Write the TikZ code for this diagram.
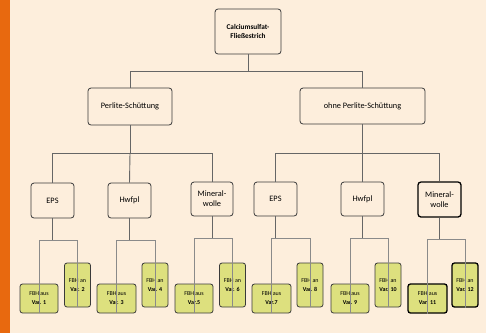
\documentclass[tikz,border=0pt]{standalone}
\usepackage{fontspec}
\setmainfont{Carlito}
\definecolor{bg}{HTML}{FDEEDC}
\definecolor{bar}{HTML}{E8690F}
\definecolor{leaf}{HTML}{DDE07E}
\definecolor{edge}{HTML}{3A3A3A}
\definecolor{wire}{HTML}{666666}
\definecolor{wireleaf}{HTML}{8A8A8A}
\begin{document}
\begin{tikzpicture}[x=1pt,y=-1pt,
  box/.style={draw=edge, line width=0.8pt, rounded corners=3pt, fill=bg, align=center, inner sep=1pt, font=\fontsize{8.3}{10}\selectfont},
  topbox/.style={box, font=\fontsize{7.3}{9}\selectfont\bfseries},
  aus/.style={draw=edge, line width=0.8pt, rounded corners=2.5pt, fill=leaf, align=center, inner sep=0.5pt, minimum height=29pt, font=\fontsize{6}{9}\selectfont},
  an/.style={aus, minimum height=44pt, minimum width=26pt},
  thick box/.style={draw=black, line width=1.3pt},
  wire/.style={draw=wire, line width=0.9pt},
  leafwire/.style={draw=wireleaf, line width=0.9pt}]
\fill[bg] (0,0) rectangle (486,333);
\fill[bar] (0,0) rectangle (10,333);
\useasboundingbox (0,0) rectangle (486,333);

\node[topbox, minimum width=66pt, minimum height=45pt] (top) at (248,31.5) {Calciumsulfat-\\Fließestrich};
\node[box, minimum width=84pt, minimum height=37pt] (perl) at (130,106.5) {Perlite-Schüttung};
\node[box, minimum width=125pt, minimum height=36pt] (ohne) at (362.5,106) {ohne Perlite-Schüttung};

\node[box, minimum width=43pt, minimum height=35pt] (eps1) at (52.5,200.5) {EPS};
\node[box, minimum width=43pt, minimum height=35pt] (hw1) at (129.5,200.5) {Hwfpl};
\node[box, minimum width=42pt, minimum height=34pt] (mw1) at (212,199) {Mineral-\\wolle};
\node[box, minimum width=43pt, minimum height=34pt] (eps2) at (275.5,199) {EPS};
\node[box, minimum width=43pt, minimum height=34pt] (hw2) at (362.5,199) {Hwfpl};
\node[box, thick box, minimum width=43pt, minimum height=35pt] (mw2) at (439.5,199.5) {Mineral-\\wolle};

\node[aus, minimum width=38pt] (v1) at (39,298.5) {FBH aus\\\textbf{Var. 1}};
\node[an] (v2) at (77.5,285) {FBH an\\\textbf{Var. 2}};
\node[aus, minimum width=39pt] (v3) at (116.5,298.5) {FBH aus\\\textbf{Var. 3}};
\node[an] (v4) at (155,285) {FBH an\\\textbf{Var. 4}};
\node[aus, minimum width=38pt] (v5) at (194,298.5) {FBH aus\\\textbf{Var.5}};
\node[an] (v6) at (232.5,285) {FBH an\\\textbf{Var. 6}};
\node[aus, minimum width=39pt] (v7) at (271.5,298.5) {FBH aus\\\textbf{Var.7}};
\node[an] (v8) at (310,285) {FBH an\\\textbf{Var. 8}};
\node[aus, minimum width=38pt] (v9) at (350,298.5) {FBH aus\\\textbf{Var. 9}};
\node[an] (v10) at (388,285) {FBH an\\\textbf{Var. 10}};
\node[aus, thick box, minimum width=39pt] (v11) at (427.5,298.5) {FBH aus\\\textbf{Var. 11}};
\node[an, thick box] (v12) at (465,285) {FBH an\\\textbf{Var. 12}};

% upper tree
\coordinate (j0) at (248,71);
\draw[wire] (top.south) -- (j0) -| (perl.north);
\draw[wire] (j0) -| (ohne.north);
\coordinate (jl) at (130,153);
\draw[wire] (perl.south) -- (jl) -| (eps1.north);
\draw[wire] (jl) -- (hw1.north);
\draw[wire] (jl) -| (mw1.north);
\coordinate (jr) at (362.5,153);
\draw[wire] (ohne.south) -- (jr) -| (eps2.north);
\draw[wire] (jr) -- (hw2.north);
\draw[wire] (jr) -| (mw2.north);

% leaves
\foreach \p/\a/\b in {eps1/v1/v2, hw1/v3/v4, mw1/v5/v6, eps2/v7/v8, hw2/v9/v10, mw2/v11/v12}{
  \coordinate (k\p) at ([yshift=-22pt]\p.south);
  \draw[wire] (\p.south) -- (k\p);
  \draw[leafwire] (k\p) -| (\a.south);
  \draw[leafwire] (k\p) -| (\b.south);
}
\end{tikzpicture}
\end{document}
